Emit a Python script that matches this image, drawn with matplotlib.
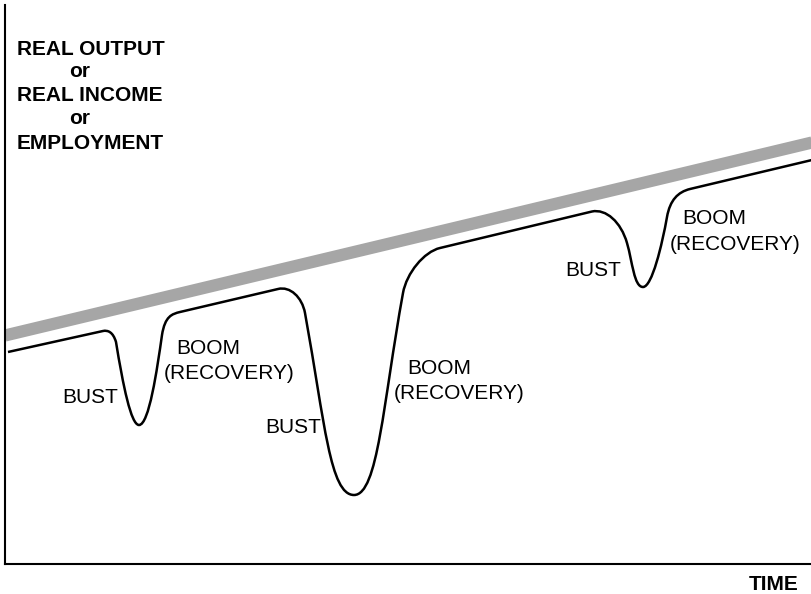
#!/usr/bin/env python3
"""Business cycle sketch: trend line vs. actual output with bust/boom phases."""
import matplotlib
matplotlib.use("Agg")
import matplotlib.pyplot as plt
from matplotlib.path import Path
from matplotlib.patches import PathPatch

plt.rcParams["font.family"] = ["Liberation Sans", "DejaVu Sans"]

# ---- data (picture coordinates, y grows downwards) ----
trend_x = [5, 812]
trend_y = [335.5, 142.5]

# actual output: anchors + bezier handles (M = move, L = line, C = cubic triple)
cycle_codes = ["M", "L", "C", "C", "C", "C", "L", "C", "C", "C", "C", "L",
               "C", "C", "C", "C", "L"]
cycle_pts = [
    [(8, 352)],
    [(103, 331)],
    [(108, 330), (113, 332), (116, 342)],
    [(123, 385), (131, 425), (139, 425)],      # bust 1 trough
    [(149, 425), (157, 370), (162, 335)],
    [(165, 316), (172, 314), (180, 312)],
    [(278, 289)],
    [(290, 286), (302, 297), (305, 313)],
    [(324.8, 423), (330, 495), (354, 495)],    # bust 2 trough
    [(378, 495), (383, 403), (403, 293)],
    [(406.6, 273), (424, 251.8), (440, 248)],
    [(592, 211.5)],
    [(606, 208.6), (621, 222), (627, 243)],
    [(632.5, 262), (634, 287), (643, 287)],    # bust 3 trough
    [(652, 287), (662, 245), (667, 217)],
    [(670, 200), (678, 192), (690, 189)],
    [(812, 160)],
]

ylabel_lines = ["REAL OUTPUT", "or", "REAL INCOME", "or", "EMPLOYMENT"]
ylabel_x = [17, 69, 17, 69, 17]
ylabel_y = [55, 77, 101, 124, 149]

phase_labels = ["BUST", "BOOM", "(RECOVERY)",
                "BUST", "BOOM", "(RECOVERY)",
                "BUST", "BOOM", "(RECOVERY)"]
phase_x = [62, 176, 164, 265, 407, 394, 565, 682, 670]
phase_y = [403, 354, 379, 433, 374, 399, 276, 224, 250]

xlabel = "TIME"

# ---- figure ----
W, H = 812, 594
fig = plt.figure(figsize=(W / 100, H / 100), dpi=100)
ax = fig.add_axes([5 / W, (H - 564) / H, (W - 5) / W, (564 - 5) / H])
ax.set_xlim(5, 812)
ax.set_ylim(564, 5)
ax.set_xticks([]); ax.set_yticks([])
for side in ("top", "right"):
    ax.spines[side].set_visible(False)
for side in ("left", "bottom"):
    ax.spines[side].set_linewidth(1.5)

ax.plot(trend_x, trend_y, color="#a6a6a6", lw=8.8, solid_capstyle="butt", zorder=2)

verts, codes = [], []
cmap = {"M": Path.MOVETO, "L": Path.LINETO, "C": Path.CURVE4}
for c, pts in zip(cycle_codes, cycle_pts):
    verts.extend(pts)
    codes.extend([cmap[c]] * len(pts))
ax.add_patch(PathPatch(Path(verts, codes), fc="none", ec="black", lw=1.8,
                       capstyle="butt", zorder=3))

for s, x, y in zip(ylabel_lines, ylabel_x, ylabel_y):
    ax.text(x, y, s, fontsize=15, fontweight="bold", ha="left", va="baseline")
for s, x, y in zip(phase_labels, phase_x, phase_y):
    ax.text(x, y, s, fontsize=15, ha="left", va="baseline")
ax.text(749, 590, xlabel, fontsize=15, fontweight="bold", ha="left",
        va="baseline", clip_on=False)

fig.savefig("out.png", dpi=100)
